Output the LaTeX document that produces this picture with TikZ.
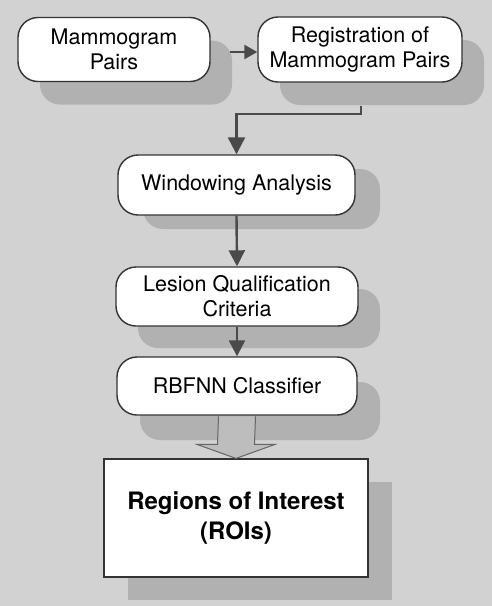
\documentclass[tikz,border=0pt]{standalone}
\usepackage{fontspec}
\setmainfont{TeX Gyre Heros}
\usetikzlibrary{arrows.meta,calc,shadows}
\definecolor{paper}{HTML}{D2D2D2}
\definecolor{shade}{HTML}{B1B1B1}
\definecolor{ink}{HTML}{333333}
\definecolor{wire}{HTML}{4A4A4A}
\definecolor{bigfill}{HTML}{BDBDBD}
\begin{document}
\begin{tikzpicture}[x=1pt,y=-1pt,
  shadowed/.style 2 args={drop shadow={shadow xshift=#1pt, shadow yshift=-#2pt,
      fill=shade, opacity=1}},
  stage/.style={draw=ink, line width=1.4pt, fill=white, rounded corners=20pt,
      align=center, inner sep=0pt, font=\fontsize{21.5}{25}\selectfont},
  result/.style={draw=ink, line width=1.2pt, fill=white, align=center,
      inner sep=0pt, font=\fontsize{24}{30}\selectfont\bfseries},
  flow/.style={draw=wire, line width=2.4pt,
      -{Triangle[length=16pt,width=16pt]}},
  bigarrow/.style={draw=wire!85, line width=1pt, fill=bigfill}]
\useasboundingbox (0,0) rectangle (492,606);
\fill[paper] (0,0) rectangle (492,606);

% processing stages
\node[stage, shadowed={22}{23}, minimum width=192pt, minimum height=64pt]
  (mp) at (114,49.5) {Mammogram\\Pairs};
\node[stage, shadowed={22}{23}, minimum width=204pt, minimum height=65pt]
  (reg) at (360,49.5) {Registration of\\Mammogram Pairs};
\node[stage, shadowed={25}{14}, minimum width=237pt, minimum height=60pt]
  (win) at (236.5,185) {Windowing Analysis};
\node[stage, shadowed={22}{22}, minimum width=242pt, minimum height=59pt]
  (les) at (237,296.5) {Lesion Qualification\\Criteria};
\node[stage, shadowed={23}{25}, minimum width=240pt, minimum height=58pt]
  (rbf) at (237,386) {RBFNN Classifier};
\node[result, shadowed={24}{23}, minimum width=264pt, minimum height=118pt]
  (roi) at (236,518) {Regions of Interest\\(ROIs)};

% connectors
\coordinate (mpout) at ($(mp.east)+(19,2.5)$);
\coordinate (regout) at ($(reg.south)+(1,23)$);
\draw[flow, -{Triangle[length=13pt,width=14pt]}] (mpout) -- (mpout -| reg.west);
\draw[flow, -{Triangle[length=17pt,width=17pt]}] (regout) -- ++(0,8) -| (win.north);
\draw[flow] (win.south) -- (les.north);
\draw[flow] (les.south) -- (rbf.north);

% wide output arrow
\draw[bigarrow]
  ($(rbf.south)+(-18.5,0.7)$) -- ($(roi.north)+(-18.5,-14)$)
  -- ($(roi.north)+(-39,-14)$) -- (roi.north)
  -- ($(roi.north)+(39,-14)$) -- ($(roi.north)+(18.5,-14)$)
  -- ($(rbf.south)+(18.5,0.7)$);
\end{tikzpicture}
\end{document}
